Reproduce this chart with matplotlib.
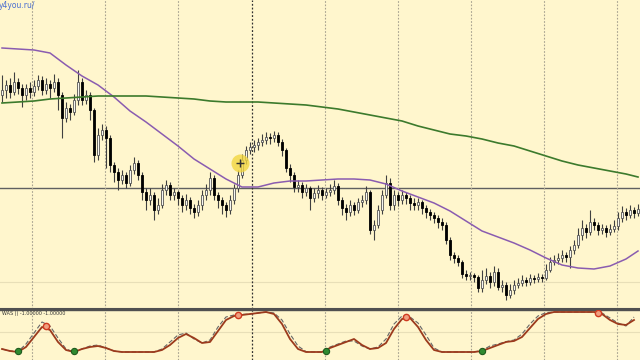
import numpy as np
import matplotlib
matplotlib.use("Agg")
import matplotlib.pyplot as plt

# price data in pips above 1.1000
first_open = 265
close_pips = [270, 275, 268, 278, 272, 265, 272, 268, 274, 280,
              270, 276, 272, 278, 265, 242, 252, 248, 260, 278,
              260, 265, 250, 205, 225, 230, 222, 195, 188, 180,
              185, 177, 190, 197, 185, 168, 160, 165, 150, 155,
              170, 175, 165, 168, 162, 155, 160, 152, 148, 155,
              165, 170, 182, 165, 160, 155, 150, 160, 172, 185,
              200, 210, 213, 215, 218, 220, 223, 222, 225, 218,
              210, 192, 185, 173, 175, 168, 172, 162, 167, 170,
              165, 168, 170, 174, 160, 152, 148, 155, 150, 158,
              160, 168, 130, 135, 150, 165, 177, 155, 165, 160,
              165, 162, 157, 155, 158, 152, 148, 145, 142, 138,
              135, 120, 105, 102, 98, 86, 84, 85, 83, 72,
              80, 84, 78, 88, 73, 75, 65, 70, 75, 77,
              80, 78, 82, 81, 83, 82, 90, 98, 100, 102,
              105, 103, 110, 115, 125, 132, 128, 138, 135, 130,
              132, 128, 131, 134, 142, 148, 145, 150, 147, 151]
high_pips = [285, 280, 282, 288, 282, 276, 276, 278, 280, 285,
             284, 282, 280, 286, 282, 268, 258, 256, 266, 290,
             282, 270, 268, 252, 232, 236, 234, 225, 198, 192,
             190, 188, 195, 203, 200, 188, 172, 172, 168, 162,
             176, 180, 178, 172, 170, 165, 166, 163, 156, 160,
             170, 176, 188, 185, 168, 163, 158, 165, 176, 190,
             206, 214, 218, 220, 222, 226, 228, 227, 229, 228,
             221, 212, 196, 188, 180, 178, 176, 174, 172, 175,
             173, 172, 176, 180, 177, 163, 156, 160, 158, 162,
             165, 174, 170, 140, 155, 170, 185, 182, 170, 168,
             170, 168, 165, 162, 162, 160, 155, 151, 148, 145,
             142, 138, 123, 108, 105, 100, 90, 88, 87, 85,
             90, 92, 88, 94, 92, 80, 78, 76, 80, 82,
             85, 83, 86, 85, 87, 86, 96, 103, 105, 107,
             110, 108, 114, 120, 132, 140, 136, 150, 142, 138,
             136, 135, 136, 140, 148, 154, 152, 155, 153, 156]
low_pips = [258, 262, 262, 265, 266, 253, 260, 262, 264, 270,
            265, 266, 262, 268, 250, 222, 238, 240, 245, 255,
            255, 256, 240, 198, 200, 220, 192, 188, 178, 170,
            176, 172, 174, 186, 180, 160, 150, 155, 140, 146,
            152, 165, 160, 160, 155, 148, 150, 146, 142, 144,
            150, 160, 165, 160, 152, 146, 143, 146, 156, 168,
            182, 196, 206, 208, 210, 214, 216, 216, 218, 214,
            204, 188, 178, 168, 168, 162, 164, 150, 158, 162,
            160, 162, 164, 166, 155, 145, 140, 144, 145, 147,
            153, 156, 126, 120, 132, 146, 162, 150, 150, 154,
            156, 156, 150, 150, 150, 146, 142, 140, 137, 132,
            130, 116, 100, 97, 94, 82, 80, 80, 78, 68,
            68, 76, 72, 74, 70, 68, 60, 62, 66, 72,
            74, 74, 75, 77, 78, 78, 80, 88, 95, 96,
            98, 98, 92, 106, 112, 120, 122, 125, 130, 125,
            126, 123, 125, 128, 130, 138, 140, 142, 142, 144]

# moving averages sampled every 4 bars (pips)
ma_idx = list(range(0, 160, 4)) + [159]
ma_fast = [312, 311, 310, 307, 295, 284, 275, 263, 249, 238,
           226, 214, 201, 191, 181, 173, 173, 177, 179, 179,
           180, 181, 181, 180, 176, 169, 163, 157, 149, 139,
           129, 123, 117, 110, 102, 95, 92, 91, 94, 101, 109]
ma_slow = [257, 258, 259, 261, 262, 263, 264, 264, 264, 264,
           263, 262, 261, 259, 258, 258, 258, 257, 256, 255,
           253, 251, 248, 245, 242, 239, 234, 230, 226, 224,
           221, 217, 214, 209, 204, 199, 195, 192, 189, 186, 183]

# oscillator sampled every 2 bars
osc_idx = list(range(0, 160, 2))
osc_main = [-0.85, -0.95, -1.0, -0.75, -0.25, 0.25, 0.10, -0.50, -0.90, -1.0,
            -0.85, -0.75, -0.70, -0.80, -0.95, -1.0, -1.0, -1.0, -1.0, -1.0,
            -0.90, -0.65, -0.30, -0.10, -0.30, -0.55, -0.50, 0.05, 0.60, 0.80,
            0.85, 0.90, 0.95, 1.0, 0.90, 0.40, -0.35, -0.85, -1.0, -1.0,
            -1.0, -0.80, -0.65, -0.50, -0.35, -0.65, -0.85, -0.80, -0.55, 0.15,
            0.65, 0.70, 0.25, -0.40, -0.90, -1.0, -1.0, -1.0, -1.0, -1.0,
            -0.95, -0.80, -0.65, -0.50, -0.45, -0.25, 0.20, 0.65, 0.90, 1.0,
            1.0, 1.0, 1.0, 1.0, 1.0, 0.90, 0.60, 0.40, 0.35, 0.60]
osc_signal = [-0.85, -0.95, -0.98, -0.60, -0.05, 0.50, 0.30, -0.30, -0.85, -1.0,
              -0.85, -0.70, -0.65, -0.80, -0.95, -1.0, -1.0, -1.0, -1.0, -1.0,
              -0.85, -0.50, -0.15, -0.05, -0.35, -0.55, -0.40, 0.25, 0.75, 0.85,
              0.88, 0.90, 0.95, 1.0, 0.95, 0.60, -0.10, -0.70, -0.98, -1.0,
              -1.0, -0.75, -0.60, -0.45, -0.45, -0.70, -0.85, -0.75, -0.35, 0.40,
              0.80, 0.75, 0.45, -0.15, -0.80, -1.0, -1.0, -1.0, -1.0, -1.0,
              -0.92, -0.70, -0.60, -0.48, -0.40, -0.10, 0.40, 0.80, 0.97, 1.0,
              1.0, 1.0, 1.0, 1.0, 1.0, 0.95, 0.70, 0.45, 0.30, 0.75]
buy_idx = [4, 18, 81, 120]
buy_val = [-0.95, -0.95, -0.95, -0.95]
sell_idx = [11, 59, 101, 149]
sell_val = [0.30, 0.85, 0.75, 0.95]

grid_x = [7.5, 25.75, 44, 80.75, 99, 117.25, 135.5, 153.75]
cross_x = 62.5
cross_price = 1.1172
cursor_x, cursor_price = 59.5, 1.1197

base = 1.1
to_price = lambda a: base + np.asarray(a) / 10000.0
c = to_price(close_pips)
o = np.concatenate([[to_price(first_open)], c[:-1]])
h = to_price(high_pips)
l = to_price(low_pips)
x = np.arange(len(c))

bg = "#fff6cd"
fig = plt.figure(figsize=(6.4, 3.6), dpi=100, facecolor=bg)
ax = fig.add_axes([0, 51 / 360, 1, 309 / 360], facecolor=bg)
ax2 = fig.add_axes([0, 0, 1, 50 / 360], facecolor=bg)

# candles
ax.vlines(x, l, h, color="#404040", lw=0.8, zorder=2)
up = c >= o
bottoms = np.minimum(o, c)
heights = np.maximum(np.abs(c - o), 0.00003)
ax.bar(x[up], heights[up], bottom=bottoms[up], width=0.7,
       color="#f6f6f0", edgecolor="#555555", lw=0.6, zorder=3)
ax.bar(x[~up], heights[~up], bottom=bottoms[~up], width=0.7,
       color="black", edgecolor="black", lw=0.6, zorder=3)

ax.plot(ma_idx, to_price(ma_fast), color="#8a5cb0", lw=1.1, zorder=4)
ax.plot(ma_idx, to_price(ma_slow), color="#3c7a2c", lw=1.2, zorder=4)

ax.axhline(cross_price, color="#606060", lw=1.0, zorder=1)
ax.axhline(1.1078, color="#e8dfb8", lw=0.8, zorder=1)
for gx in grid_x:
    ax.axvline(gx, color="#a8a290", lw=0.8, ls=(0, (1.5, 1.5)), zorder=1)
ax.axvline(cross_x, color="#303030", lw=0.9, ls=(0, (1.5, 1.5)), zorder=1)

ax.plot([cursor_x], [cursor_price], "o", ms=13, color="#f2d640", alpha=0.8,
        mec="none", zorder=5)
ax.plot([cursor_x], [cursor_price], "+", ms=6, mew=1.0, color="#333333", zorder=6)

ax.text(-0.002, 0.997, "y4you.ru/", transform=ax.transAxes, color="#4a6ed0",
        fontsize=5.5, ha="left", va="top")

ax.set_xlim(-0.5, len(c) - 0.5)
ax.set_ylim(1.1051, 1.1360)
ax.set_xticks([])
ax.set_yticks([])
for s in ["top", "left", "right"]:
    ax.spines[s].set_visible(False)
ax.spines["bottom"].set_color("#505050")
ax.spines["bottom"].set_linewidth(1.5)

# indicator window
ax2.axhline(0, color="#e8dfb8", lw=0.8, zorder=1)
for gx in grid_x:
    ax2.axvline(gx, color="#a8a290", lw=0.8, ls=(0, (1.5, 1.5)), zorder=1)
ax2.axvline(cross_x, color="#303030", lw=0.9, ls=(0, (1.5, 1.5)), zorder=1)
ax2.plot(osc_idx, osc_signal, color="#666666", lw=0.8, ls=(0, (4, 2)), zorder=3)
ax2.plot(osc_idx, osc_main, color="#9c3a1c", lw=1.3, zorder=4)
ax2.plot(buy_idx, buy_val, "o", ms=4.5, color="#2f8a2f", mec="#1d5a1d", mew=0.8, zorder=5)
ax2.plot(sell_idx, sell_val, "o", ms=4.5, color="#f0a080", mec="#d03a20", mew=1.0, zorder=5)
ax2.text(0.003, 0.97, "WAS () -1.00000 -1.00000", transform=ax2.transAxes,
         fontsize=3.5, color="#333333", ha="left", va="top")
ax2.set_xlim(-0.5, len(c) - 0.5)
ax2.set_ylim(-1.4, 1.1)
ax2.set_xticks([])
ax2.set_yticks([])
for s in ["bottom", "left", "right"]:
    ax2.spines[s].set_visible(False)
ax2.spines["top"].set_color("#505050")
ax2.spines["top"].set_linewidth(1.0)

fig.savefig("out.png", dpi=100, facecolor=bg)
